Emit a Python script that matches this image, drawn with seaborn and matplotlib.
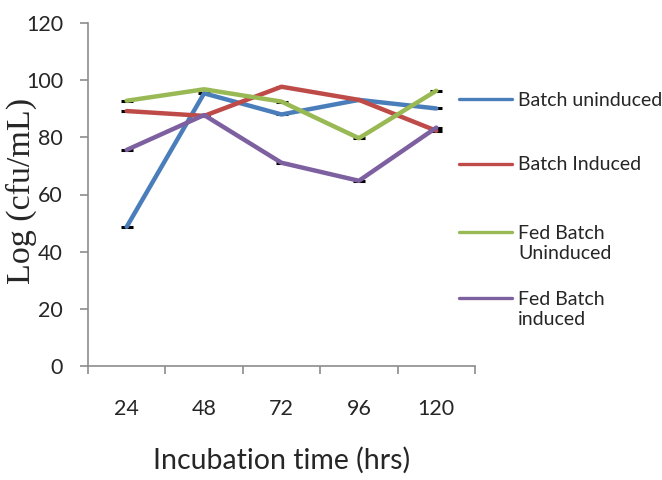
import matplotlib
matplotlib.use("Agg")
import matplotlib.pyplot as plt
import seaborn as sns
import pandas as pd
from matplotlib.ticker import FixedLocator
from matplotlib.legend import Legend

# Sampling times and viable counts for each culture condition
hours = ["24", "48", "72", "96", "120"]
batch_uninduced = [48.7, 95.4, 88.0, 93.1, 90.1]
batch_induced = [89.2, 87.5, 97.7, 93.1, 82.3]
fed_batch_uninduced = [92.8, 96.8, 92.5, 79.7, 96.3]
fed_batch_induced = [75.6, 87.8, 71.1, 64.8, 83.4]

series_names = ["Batch uninduced", "Batch Induced",
                "Fed Batch\nUninduced", "Fed Batch\ninduced"]
series_values = [batch_uninduced, batch_induced,
                 fed_batch_uninduced, fed_batch_induced]
colors = ["#4A7EBB", "#BE4B48", "#98B954", "#7D60A0"]

rows = []
for name, vals in zip(series_names, series_values):
    for i, (h, v) in enumerate(zip(hours, vals)):
        rows.append({"pos": i, "hours": h, "value": v, "series": name})
df = pd.DataFrame(rows)

sns.set_style("white")
plt.rcParams["font.family"] = ["Lato", "DejaVu Sans"]

W, H = 662, 480
fig = plt.figure(figsize=(W / 100, H / 100), dpi=100)
ax = fig.add_axes([88 / W, 114 / H, (475 - 88) / W, (457 - 114) / H])

# small black caps at each data point
sns.scatterplot(data=df, x="pos", y="value", marker="_", color="black",
                s=70, linewidth=2.2, ax=ax, zorder=2, legend=False)
sns.lineplot(data=df, x="pos", y="value", hue="series", palette=colors,
             linewidth=3.2, sort=False, ax=ax, zorder=3, legend=False)

ax.set_xlim(-0.5, 4.5)
ax.set_ylim(0, 120)
ax.set_yticks(range(0, 121, 20))
ax.set_xticks(range(len(hours)))
ax.set_xticklabels(hours)
ax.xaxis.set_minor_locator(FixedLocator([i - 0.5 for i in range(len(hours) + 1)]))

ax.tick_params(axis="x", which="major", length=0, pad=24, labelsize=15.5)
ax.tick_params(axis="x", which="minor", length=6, width=1.2, color="#8c8c8c",
               direction="out", bottom=True)
ax.tick_params(axis="y", which="major", length=6, width=1.2, color="#8c8c8c",
               direction="out", left=True, pad=12, labelsize=15.5)

for side in ["top", "right"]:
    ax.spines[side].set_visible(False)
for side in ["left", "bottom"]:
    ax.spines[side].set_color("#8c8c8c")
    ax.spines[side].set_linewidth(1.2)

ax.set_xlabel("Incubation time (hrs)", fontsize=20.5)
ax.xaxis.set_label_coords(0.5, -0.235)
ax.set_ylabel("Log (cfu/mL)", fontsize=24.5, family=["Liberation Serif"])
ax.yaxis.set_label_coords(-0.132, 0.51)

# one legend entry per series, stacked down the right-hand side
legend_centers = [100, 165, 243.5, 309.5]
for line, name, yc in zip(ax.get_lines(), series_names, legend_centers):
    leg = Legend(fig, [line], [name], loc="center left",
                 bbox_to_anchor=(459 / W, 1 - yc / H),
                 bbox_transform=fig.transFigure, frameon=False,
                 fontsize=14, handlelength=2.75, handletextpad=0.3,
                 borderpad=0, borderaxespad=0)
    handle = leg.get_lines()[0]
    handle.set_linewidth(2.4)
    if "\n" in name:
        # keep the swatch level with the first line of a wrapped label
        handle.set_ydata([y + 8.4 for y in handle.get_ydata()])
    fig.add_artist(leg)

fig.savefig("out.png", dpi=100)
